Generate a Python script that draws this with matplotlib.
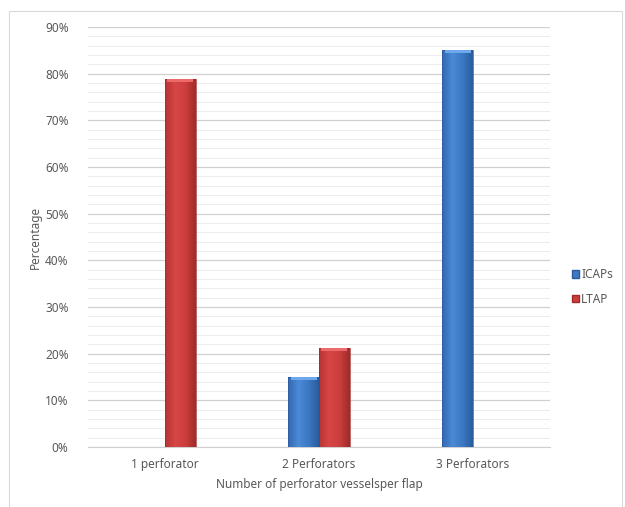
import matplotlib.pyplot as plt
import matplotlib.colors as mcolors
from matplotlib.patches import Rectangle
from matplotlib.ticker import MultipleLocator, PercentFormatter
import numpy as np

categorias = ['1 perforator', '2 Perforators', '3 Perforators']
icaps = [0.0, 15.0, 85.0]
ltap = [78.8, 21.2, 0.0]

plt.rcParams['font.family'] = ['Noto Sans', 'DejaVu Sans']

azul = ['#3468b0', '#4a8ad6', '#3c78c4', '#2a5c9c']
rojo = ['#b83434', '#d84646', '#cc3e3e', '#a02a2a']


def barra(ax, x0, ancho, alto, colores, tope):
    # cuerpo con degradado horizontal
    cmap = mcolors.LinearSegmentedColormap.from_list('g', colores)
    grad = np.linspace(0, 1, 64).reshape(1, -1)
    ax.imshow(grad, cmap=cmap, aspect='auto', extent=(x0, x0 + ancho, 0, alto),
              zorder=3, interpolation='bilinear')
    ax.add_patch(Rectangle((x0, 0), ancho, alto, fill=False,
                           edgecolor=colores[3], linewidth=0.5, zorder=4))
    # bisel superior
    ax.add_patch(Rectangle((x0 + ancho * 0.08, alto - 0.6), ancho * 0.84, 0.6,
                           facecolor=tope, edgecolor='none', zorder=5))


fig = plt.figure(figsize=(6.25, 5.07), dpi=100)
fig.patches.append(Rectangle((9 / 625, -0.1), 613 / 625, 1 - 11 / 507 + 0.1,
                             transform=fig.transFigure, fill=False,
                             edgecolor='#d9d9d9', linewidth=0.8))
ax = fig.add_axes([88 / 625, 60 / 507, 462 / 625, 420 / 507])

x = np.arange(len(categorias))
w = 0.2
for i in range(len(categorias)):
    if icaps[i] > 0:
        barra(ax, x[i] - w, w, icaps[i], azul, '#6ea8ec')
    if ltap[i] > 0:
        barra(ax, x[i], w, ltap[i], rojo, '#ee6a6a')

ax.set_xlim(-0.5, 2.5)
ax.set_ylim(0, 90)
ax.yaxis.set_major_locator(MultipleLocator(10))
ax.yaxis.set_minor_locator(MultipleLocator(2))
ax.yaxis.set_major_formatter(PercentFormatter(decimals=0))
ax.grid(which='major', axis='y', color='#d0d0d0', linewidth=0.9, zorder=0)
ax.grid(which='minor', axis='y', color='#ececec', linewidth=0.7, zorder=0)
ax.set_axisbelow(True)
for s in ['top', 'right', 'left']:
    ax.spines[s].set_visible(False)
ax.spines['bottom'].set_color('#d0d0d0')
ax.tick_params(axis='both', which='both', length=0, colors='#595959', labelsize=8.5)
ax.tick_params(axis='y', pad=14)
ax.tick_params(axis='x', pad=8)
ax.set_xticks(x)
ax.set_xticklabels(categorias)
ax.set_xlabel('Number of perforator vesselsper flap', color='#595959', fontsize=8.5, labelpad=5)
ax.set_ylabel('Percentage', color='#595959', fontsize=8.5, labelpad=2)

h1 = Rectangle((0, 0), 1, 1, facecolor='#3c78c4', edgecolor='#2a5c9c')
h2 = Rectangle((0, 0), 1, 1, facecolor='#cc3e3e', edgecolor='#a02a2a')
fig.legend([h1, h2], ['ICAPs', 'LTAP'], loc='center left',
           bbox_to_anchor=(566 / 625, 1 - 287 / 507), frameon=False,
           fontsize=8.5, labelcolor='#595959', handlelength=0.6, handleheight=0.6,
           handletextpad=0.2, labelspacing=1.0, borderpad=0)

fig.savefig('out.png', dpi=100)
